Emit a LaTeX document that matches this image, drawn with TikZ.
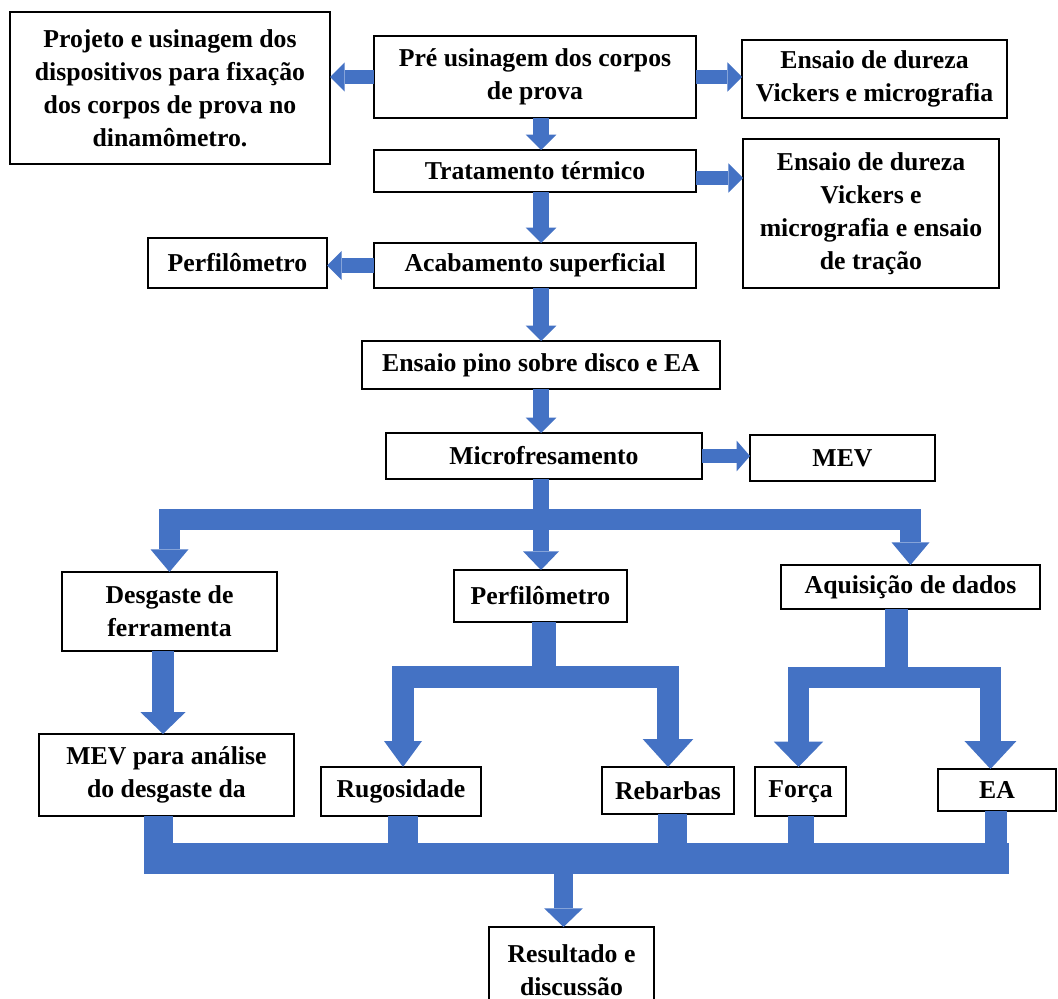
\documentclass[tikz,border=0pt]{standalone}
\usepackage{fontspec}
\setmainfont{Liberation Serif}
\usetikzlibrary{arrows.meta}
\definecolor{arblue}{HTML}{4472C4}
\tikzset{
  box/.style={draw, line width=0.9pt, fill=white, inner sep=0pt, outer sep=0pt,
    align=center, font=\bfseries\fontsize{19.3}{24.8}\selectfont},
  blockarrow/.style n args={3}{draw=arblue, line width=#1, line join=miter,
    -{Triangle[width=#2,length=#3,line width=0pt]}},
  band/.style={draw=arblue, line width=#1},
  side/.style={blockarrow={11pt}{22pt}{11pt}},
  down/.style={blockarrow={11.5pt}{23pt}{11.5pt}},
  fork/.style={blockarrow={16pt}{28.5pt}{17pt}},
}
% box from corner (x1,y1) to (x2,y2), in pixel units
\newcommand\boxat[6]{%
  \node[box, minimum width={(#4-#2)*0.75pt}, minimum height={(#5-#3)*0.75pt}]
    (#1) at ({(#2+#4)/2},{(#3+#5)/2}) {#6};}
\begin{document}
\begin{tikzpicture}[x=0.75pt, y=-0.75pt]
\useasboundingbox (0,0) rectangle (1058,999);
\clip (0,0) rectangle (1058,999);

% process steps
\boxat{proj}{10}{12}{330}{164}{Projeto e usinagem dos\\dispositivos para fixação\\dos corpos de prova no\\dinamômetro.}
\boxat{pre}{374}{36}{696}{118}{Pré usinagem dos corpos\\de prova}
\boxat{dur1}{742}{40}{1007}{118}{Ensaio de dureza\\Vickers e micrografia}
\boxat{trat}{374}{150}{696}{192}{Tratamento térmico}
\boxat{dur2}{743}{139}{999}{288}{Ensaio de dureza\\Vickers e\\micrografia e ensaio\\de tração}
\boxat{perf1}{148}{238}{327}{288}{Perfilômetro}
\boxat{acab}{374}{243}{696}{288}{Acabamento superficial}
\boxat{pino}{362}{341}{720}{389}{Ensaio pino sobre disco e EA}
\boxat{micro}{386}{433}{702}{479}{Microfresamento}
\boxat{mev}{750}{435}{935}{481}{MEV}
\boxat{desg}{62}{572}{277}{651}{Desgaste de\\ferramenta}
\boxat{perf2}{454}{570}{627}{622}{Perfilômetro}
\boxat{aquis}{781}{565}{1040}{609}{Aquisição de dados}
\boxat{mevd}{39}{734}{294}{816}{MEV para análise\\do desgaste da}
\boxat{rug}{321}{767}{481}{816}{Rugosidade}
\boxat{reb}{602}{767}{734}{814}{Rebarbas}
\boxat{forca}{755}{767}{846}{816}{Força}
\boxat{ea}{938}{769}{1056}{811}{EA}
\boxat{res}{489}{927}{654}{1013}{Resultado e\\discussão}

% main column
\coordinate (col) at (541,0);
\draw[down] (pre.south -| col) -- (trat.north -| col);
\draw[down] (trat.south -| col) -- (acab.north -| col);
\draw[down] (acab.south -| col) -- (pino.north -| col);
\draw[down] (pino.south -| col) -- (micro.north -| col);

% side branches
\draw[side] (pre.west) -- (pre.west -| proj.east);
\draw[side] (pre.east) -- (pre.east -| dur1.west);
\draw[side] ([yshift=-5.25pt]trat.east) -- ([yshift=-5.25pt]trat.east -| dur2.west);
\draw[side] (acab.west) -- (acab.west -| perf1.east);
\draw[blockarrow={10pt}{23pt}{10pt}] (micro.east) -- (micro.east -| mev.west);

% three-way split below Microfresamento
\coordinate (split) at (541,519.5);
\draw[fork] (split) -| (desg.north);
\draw[fork] (split) -| (aquis.north);
\draw[blockarrow={12pt}{27pt}{14pt}] (micro.south -| col) -- (perf2.north -| col);

% tool wear
\coordinate (dc) at (163,0);
\draw[blockarrow={16.5pt}{34pt}{16.5pt}] (desg.south -| dc) -- (mevd.north -| dc);

% profilometer split
\coordinate (pj) at (544,677);
\coordinate (pjb) at (544,688);
\draw[blockarrow={16pt}{28.5pt}{19.5pt}] (pj) -| ([xshift=1.5pt]rug.north);
\draw[blockarrow={16.5pt}{38pt}{21pt}] (pj) -| (reb.north);
\draw[band=18pt] (perf2.south -| pj) -- (pjb);

% data acquisition split
\coordinate (aj) at (896.5,677.5);
\coordinate (ajb) at (896.5,688);
\draw[blockarrow={16pt}{37pt}{19pt}] (aj) -| ([xshift=-1.5pt]forca.north);
\draw[blockarrow={16pt}{39pt}{21pt}] (aj) -| ([xshift=-4.9pt]ea.north);
\draw[band=17pt] (aquis.south -| aj) -- (ajb);

% collecting bus
\coordinate (busL) at (144,858.5);
\coordinate (busR) at (1009,858.5);
\draw[band=22pt] ([xshift=-6pt]mevd.south) -- ([xshift=-6pt]mevd.south |- busL);
\draw[band=22.5pt] ([xshift=1.5pt]rug.south) -- ([xshift=1.5pt]rug.south |- busL);
\draw[band=22pt] ([xshift=3.4pt]reb.south) -- ([xshift=3.4pt]reb.south |- busL);
\draw[band=19.5pt] (forca.south) -- (forca.south |- busL);
\draw[band=16.5pt] ([xshift=-0.75pt]ea.south) -- ([xshift=-0.75pt]ea.south |- busL);
\draw[band=23pt] (busL) -- (busR);
\coordinate (rj) at (563.5,874);
\draw[blockarrow={14pt}{29pt}{14pt}] (rj) -- (res.north -| rj);
\end{tikzpicture}
\end{document}
